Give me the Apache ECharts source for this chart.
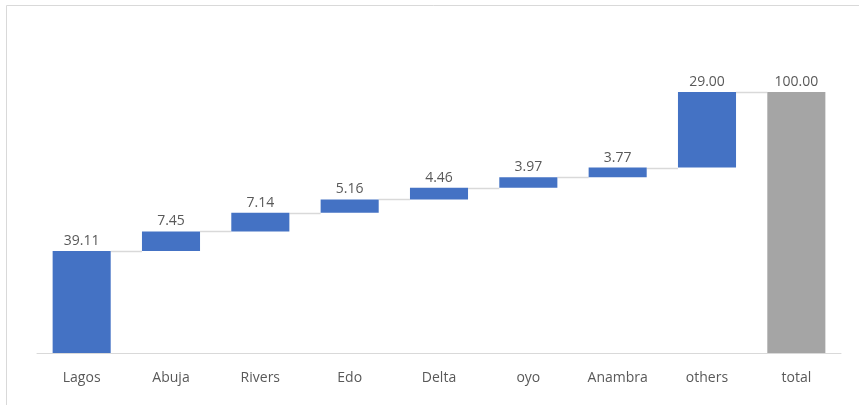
<!DOCTYPE html>
<html>
<head>
<meta charset="utf-8">
<script src="https://cdn.jsdelivr.net/npm/echarts@6/dist/echarts.min.js"></script>
<style>
  html, body { margin: 0; padding: 0; background: #fff; }
  #main { width: 859px; height: 405px; }
</style>
</head>
<body>
<div id="main"></div>
<script>
var categories = ['Lagos', 'Abuja', 'Rivers', 'Edo', 'Delta', 'oyo', 'Anambra', 'others', 'total'];
var values = [39.11, 7.45, 7.14, 5.16, 4.46, 3.97, 3.77, 29.00, 100.00];
var isTotal = [false, false, false, false, false, false, false, false, true];

// running base for each step, totals start from zero
var bases = [];
var tops = [];
var run = 0;
for (var i = 0; i < values.length; i++) {
  if (isTotal[i]) {
    bases.push(0);
    run = values[i];
  } else {
    bases.push(run);
    run += values[i];
  }
  tops.push(run);
}

var myChart = echarts.init(document.getElementById('main'));

var option = {
  animation: false,
  graphic: [{
    type: 'rect',
    shape: { x: 6.5, y: 5.5, width: 900, height: 500 },
    style: { fill: 'none', stroke: '#d9d9d9', lineWidth: 1 },
    silent: true
  }],
  grid: { left: 37, right: 18, top: 92, bottom: 52 },
  xAxis: {
    type: 'category',
    data: categories,
    axisTick: { show: false },
    axisLine: { lineStyle: { color: '#d9d9d9', width: 1 } },
    axisLabel: { color: '#595959', fontSize: 14, fontFamily: 'Open Sans', margin: 18 }
  },
  yAxis: {
    type: 'value',
    min: 0,
    max: 100,
    show: false
  },
  series: [
    {
      type: 'bar',
      stack: 'w',
      barWidth: '65%',
      itemStyle: { color: 'transparent' },
      silent: true,
      data: bases
    },
    {
      type: 'bar',
      stack: 'w',
      barWidth: '65%',
      data: values.map(function (v, i) {
        return { value: v, itemStyle: { color: isTotal[i] ? '#a5a5a5' : '#4472c4' } };
      }),
      label: {
        show: true,
        position: 'top',
        distance: 3,
        color: '#595959',
        fontSize: 14,
        fontFamily: 'Open Sans',
        formatter: function (p) { return p.value.toFixed(2); }
      }
    },
    {
      // connector lines between neighbouring bars
      type: 'custom',
      silent: true,
      z: 1,
      data: tops.slice(0, -1).map(function (t, i) { return [i, t]; }),
      renderItem: function (params, api) {
        var idx = api.value(0);
        var p1 = api.coord([idx, api.value(1)]);
        var p2 = api.coord([idx + 1, api.value(1)]);
        var w = api.size([1, 0])[0] * 0.65;
        return {
          type: 'line',
          shape: { x1: p1[0] + w / 2, y1: Math.round(p1[1]) + 0.5, x2: p2[0] - w / 2, y2: Math.round(p1[1]) + 0.5 },
          style: { stroke: '#d9d9d9', lineWidth: 1.5 }
        };
      }
    }
  ]
};

myChart.setOption(option);
</script>
</body>
</html>
